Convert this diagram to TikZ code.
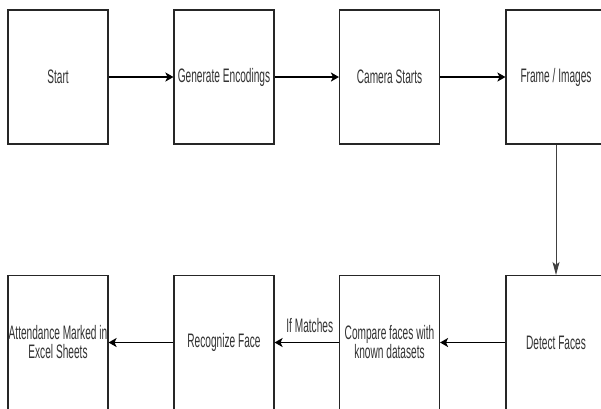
\documentclass[tikz,border=0pt]{standalone}
\usepackage{fontspec}
\newfontfamily\lblfont[FakeStretch=0.52]{Liberation Sans}
\usetikzlibrary{arrows.meta}
\begin{document}
\begin{tikzpicture}[x=1pt,y=1pt,
  box/.style={draw=black!85,line width=1.1pt,rectangle,minimum width=100pt,minimum height=134pt,inner sep=0pt,align=center,
    font=\lblfont\fontsize{19.5}{19}\selectfont,text=black!80},
  harrow/.style={line width=1.6pt,-{Stealth[length=8pt,width=9pt,inset=2pt]}},
  varrow/.style={draw=black!75,line width=0.8pt,-{Stealth[length=13pt,width=7pt,inset=3pt]}},
  lbl/.style={font=\lblfont\fontsize{19.5}{19}\selectfont,text=black!80,inner sep=0pt}]
\useasboundingbox (0,0) rectangle (601,-408);
\clip (0,0) rectangle (601,-408);
\fill[white] (0,0) rectangle (601,-408);
\node[box] (start) at (58,-77) {Start};
\node[box] (gen) at (224,-77) {Generate Encodings};
\node[box] (cam) at (389.5,-77) {Camera Starts};
\node[box] (frame) at (556,-77) {Frame / Images};
\node[box] (att) at (58,-342.5) {Attendance Marked in\\Excel Sheets};
\node[box] (rec) at (224,-342.5) {Recognize Face};
\node[box] (cmp) at (389.5,-342.5) {Compare faces with\\known datasets};
\node[box] (det) at (556,-342.5) {Detect Faces};
\draw[harrow] (start) -- (gen);
\draw[harrow] (gen) -- (cam);
\draw[harrow] (cam) -- (frame);
\draw[varrow] (frame) -- (det);
\draw[harrow] (det) -- (cmp);
\draw[harrow] (cmp) -- node[lbl,above=9pt,xshift=3pt] (ifm) {If Matches} (rec);
\draw[harrow] (rec) -- (att);
\end{tikzpicture}
\end{document}
